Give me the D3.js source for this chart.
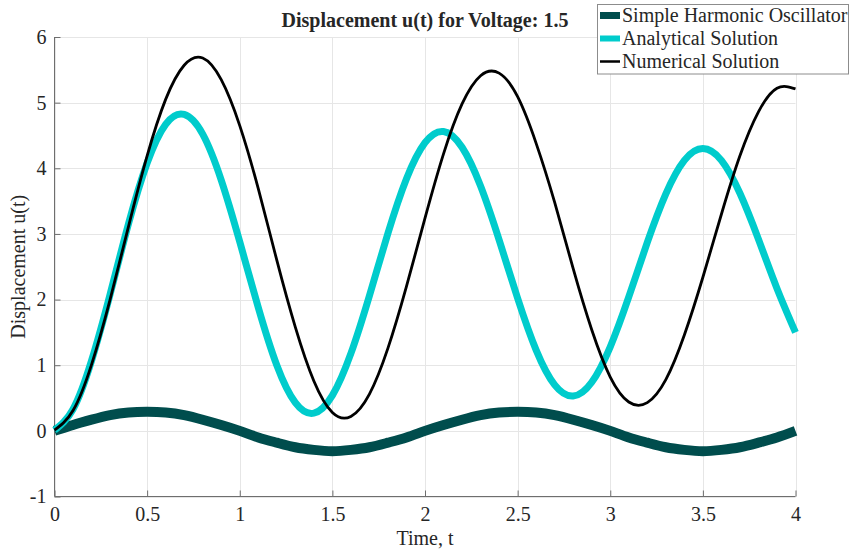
<!DOCTYPE html>
<html>
<head>
<meta charset="utf-8">
<script src="https://cdn.jsdelivr.net/npm/d3@7"></script>
<style>
  body { margin: 0; background: #fff; }
  text { font-family: "Liberation Serif", "Times New Roman", serif; fill: #262626; }
</style>
</head>
<body>
<script>
// time samples (s)
var timeVals = [0, 0.1, 0.2, 0.3, 0.4, 0.5, 0.6, 0.7, 0.8, 0.9,
  1.0, 1.1, 1.2, 1.3, 1.4, 1.5, 1.6, 1.7, 1.8, 1.9,
  2.0, 2.1, 2.2, 2.3, 2.4, 2.5, 2.6, 2.7, 2.8, 2.9,
  3.0, 3.1, 3.2, 3.3, 3.4, 3.5, 3.6, 3.7, 3.8, 3.9, 4.0];

// values
var shoVals = [0, 0.09, 0.17, 0.24, 0.28, 0.29, 0.28, 0.24, 0.17, 0.09,
  0.00, -0.10, -0.18, -0.25, -0.29, -0.31, -0.29, -0.25, -0.18, -0.10,
  0.00, 0.09, 0.17, 0.24, 0.28, 0.29, 0.28, 0.24, 0.17, 0.09,
  0.00, -0.10, -0.18, -0.25, -0.29, -0.31, -0.29, -0.25, -0.18, -0.10, 0.00];

var analyticalVals = [0.01, 0.33, 1.07, 2.08, 3.16, 4.08, 4.67, 4.82, 4.52, 3.82,
  2.88, 1.88, 1.00, 0.43, 0.27, 0.54, 1.18, 2.06, 3.01, 3.84,
  4.39, 4.56, 4.32, 3.73, 2.91, 2.02, 1.23, 0.70, 0.53, 0.74,
  1.28, 2.04, 2.87, 3.61, 4.12, 4.30, 4.12, 3.62, 2.92, 2.17, 1.50];

var numericalVals = [0.01, 0.31, 1.01, 2.00, 3.12, 4.19, 5.05, 5.57, 5.68, 5.35,
  4.65, 3.69, 2.60, 1.58, 0.76, 0.28, 0.22, 0.56, 1.26, 2.20,
  3.24, 4.22, 4.98, 5.41, 5.45, 5.09, 4.38, 3.48, 2.47, 1.54,
  0.82, 0.44, 0.43, 0.78, 1.46, 2.34, 3.30, 4.19, 4.86, 5.22, 5.21];

var xTicks = [0, 0.5, 1, 1.5, 2, 2.5, 3, 3.5, 4];
var yTicks = [-1, 0, 1, 2, 3, 4, 5, 6];

var seriesNames = ["Simple Harmonic Oscillator", "Analytical Solution", "Numerical Solution"];
var seriesColors = ["#004d4d", "#00cccc", "#000000"];
var seriesWidths = [10, 7, 2.8];
var swatchHeights = [7, 6, 2.5];

var width = 850, height = 550;
var plot = { left: 54.5, right: 795.5, top: 37, bottom: 496.5 };

var svg = d3.select("body").append("svg")
  .attr("width", width)
  .attr("height", height);

var x = d3.scaleLinear().domain([0, 4]).range([plot.left, plot.right]);
var y = d3.scaleLinear().domain([-1, 6]).range([plot.bottom, plot.top]);

// grid
var grid = svg.append("g");
grid.selectAll(".gx")
  .data(xTicks)
  .enter().append("line")
    .attr("x1", d => Math.round(x(d)) + 0.5)
    .attr("x2", d => Math.round(x(d)) + 0.5)
    .attr("y1", plot.top)
    .attr("y2", plot.bottom)
    .attr("stroke", "#e6e6e6")
    .attr("stroke-width", 1);
grid.selectAll(".gy")
  .data(yTicks)
  .enter().append("line")
    .attr("y1", d => Math.round(y(d)) + 0.5)
    .attr("y2", d => Math.round(y(d)) + 0.5)
    .attr("x1", plot.left)
    .attr("x2", plot.right)
    .attr("stroke", "#e6e6e6")
    .attr("stroke-width", 1);

// axes, ticks pointing inward
var xAxis = d3.axisBottom(x).tickValues(xTicks).tickSize(-6).tickPadding(10)
  .tickFormat(d => String(d));
var yAxis = d3.axisLeft(y).tickValues(yTicks).tickSize(-6).tickPadding(8)
  .tickFormat(d => String(d));

var gx = svg.append("g")
  .attr("transform", "translate(0," + plot.bottom + ")")
  .call(xAxis);
var gy = svg.append("g")
  .attr("transform", "translate(" + plot.left + ",0)")
  .call(yAxis);

[gx, gy].forEach(function(g) {
  g.select(".domain").remove();
  g.selectAll(".tick line").attr("stroke", "#6e6e6e");
  g.selectAll(".tick text")
    .style("font-family", "'Liberation Serif', serif")
    .style("font-size", "20px")
    .attr("fill", "#262626");
});
svg.append("line")
  .attr("x1", plot.left).attr("x2", plot.right)
  .attr("y1", plot.bottom).attr("y2", plot.bottom)
  .attr("stroke", "#6e6e6e");
svg.append("line")
  .attr("x1", plot.left).attr("x2", plot.left)
  .attr("y1", plot.top).attr("y2", plot.bottom)
  .attr("stroke", "#6e6e6e");

// curves
var allVals = [shoVals, analyticalVals, numericalVals];
var line = d3.line()
  .x((d, i) => x(timeVals[i]))
  .y(d => y(d))
  .curve(d3.curveNatural);

svg.append("g").selectAll("path")
  .data(allVals)
  .enter().append("path")
    .attr("d", line)
    .attr("fill", "none")
    .attr("stroke", (d, i) => seriesColors[i])
    .attr("stroke-width", (d, i) => seriesWidths[i])
    .attr("stroke-linejoin", "round");

// labels
svg.append("text")
  .attr("x", (plot.left + plot.right) / 2)
  .attr("y", 27)
  .attr("text-anchor", "middle")
  .style("font-size", "20px")
  .style("font-weight", "bold")
  .attr("fill", "#000")
  .text("Displacement u(t) for Voltage: 1.5");

svg.append("text")
  .attr("x", (plot.left + plot.right) / 2)
  .attr("y", 545)
  .attr("text-anchor", "middle")
  .style("font-size", "20px")
  .text("Time, t");

svg.append("text")
  .attr("transform", "translate(25," + ((plot.top + plot.bottom) / 2) + ") rotate(-90)")
  .attr("text-anchor", "middle")
  .style("font-size", "20px")
  .text("Displacement u(t)");

// legend
var legend = svg.append("g");
legend.append("rect")
  .attr("x", 597.5).attr("y", 4.5)
  .attr("width", 251).attr("height", 69.5)
  .attr("fill", "#fff")
  .attr("stroke", "#8c8c8c")
  .attr("stroke-width", 1);

var rows = legend.selectAll(".row")
  .data(seriesNames)
  .enter().append("g")
    .attr("transform", (d, i) => "translate(600," + (22 + i * 23) + ")");
rows.append("rect")
  .attr("x", 0)
  .attr("y", (d, i) => -6.5 - swatchHeights[i] / 2)
  .attr("width", 20)
  .attr("height", (d, i) => swatchHeights[i])
  .attr("fill", (d, i) => seriesColors[i]);
rows.append("text")
  .attr("x", 22)
  .attr("y", 0)
  .style("font-size", "20px")
  .attr("fill", "#000")
  .text(d => d);
</script>
</body>
</html>
